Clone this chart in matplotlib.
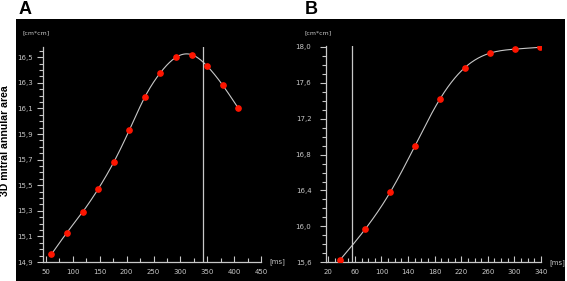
import numpy as np
import matplotlib
matplotlib.use("Agg")
import matplotlib.pyplot as plt
from matplotlib.ticker import MultipleLocator, FuncFormatter

# ---- data ----
a_time = [60, 89, 118, 147, 176, 205, 234, 263, 292, 321, 350, 379, 408]
a_area = [14.96, 15.13, 15.29, 15.47, 15.68, 15.93, 16.19, 16.38, 16.50, 16.52, 16.43, 16.28, 16.10]
a_marker = 342

b_time = [38, 75.5, 113, 150.5, 188, 225.5, 263, 300.5, 338]
b_area = [15.63, 15.97, 16.38, 16.90, 17.42, 17.77, 17.93, 17.975, 17.995]
b_marker = 56

ylabel = "3D mitral annular area"
unit_y = "[cm*cm]"
unit_x = "[ms]"

FG = "#c8c8c8"
RED = "#ff1500"


def natural_spline(x, y, n=400):
    x = np.asarray(x, float)
    y = np.asarray(y, float)
    m = len(x)
    h = np.diff(x)
    A = np.zeros((m, m))
    r = np.zeros(m)
    A[0, 0] = A[-1, -1] = 1
    for i in range(1, m - 1):
        A[i, i - 1] = h[i - 1]
        A[i, i] = 2 * (h[i - 1] + h[i])
        A[i, i + 1] = h[i]
        r[i] = 3 * ((y[i + 1] - y[i]) / h[i] - (y[i] - y[i - 1]) / h[i - 1])
    c = np.linalg.solve(A, r)
    b = (y[1:] - y[:-1]) / h - h * (2 * c[:-1] + c[1:]) / 3
    d = (c[1:] - c[:-1]) / (3 * h)
    xs = np.linspace(x[0], x[-1], n)
    idx = np.clip(np.searchsorted(x, xs) - 1, 0, m - 2)
    dx = xs - x[idx]
    ys = y[idx] + b[idx] * dx + c[idx] * dx ** 2 + d[idx] * dx ** 3
    return xs, ys


fig = plt.figure(figsize=(5.67, 2.81), dpi=100)
fig.patch.set_facecolor("white")
bg = fig.add_axes([16 / 567, 0, (565 - 16) / 567, 1 - 19 / 281], zorder=-5)
bg.set_facecolor("black")
bg.set_xticks([])
bg.set_yticks([])
for s in bg.spines.values():
    s.set_visible(False)

comma = FuncFormatter(lambda v, p: f"{v:.1f}".replace(".", ","))


def style(ax, ypad):
    ax.set_facecolor("none")
    for s in ["top", "right"]:
        ax.spines[s].set_visible(False)
    for s in ["left", "bottom"]:
        ax.spines[s].set_color(FG)
        ax.spines[s].set_linewidth(0.9)
    ax.tick_params(axis="y", which="both", direction="out", colors=FG,
                   labelsize=5, pad=ypad, width=0.8)
    ax.tick_params(axis="y", which="major", length=4)
    ax.tick_params(axis="y", which="minor", length=3)
    ax.tick_params(axis="x", which="both", direction="in", colors=FG,
                   labelsize=5, pad=5, width=0.8)
    ax.tick_params(axis="x", which="major", length=4.5)
    ax.tick_params(axis="x", which="minor", length=3)
    ax.yaxis.set_major_formatter(comma)


# Panel A
axA = fig.add_axes([43 / 567, 1 - 262 / 281, (261 - 43) / 567, (262 - 47) / 281])
style(axA, 3.5)
axA.set_xlim(44.4, 450)
axA.set_ylim(14.9, 16.58)
axA.xaxis.set_major_locator(MultipleLocator(50))
axA.xaxis.set_minor_locator(MultipleLocator(25))
axA.set_yticks(np.arange(14.9, 16.6, 0.2))
axA.yaxis.set_minor_locator(MultipleLocator(0.05))
xs, ys = natural_spline(a_time, a_area)
axA.plot(xs, ys, color=FG, lw=0.8, zorder=2)
axA.plot(a_time, a_area, "o", color=RED, ms=3.8, mec=RED, zorder=3)
axA.axvline(a_marker, color=FG, lw=0.9, zorder=1)
axA.text(-0.092, 1.065, unit_y, transform=axA.transAxes, color=FG, fontsize=4.5,
         ha="left", va="center")
axA.text(1.04, 0.0, unit_x, transform=axA.transAxes, color=FG, fontsize=5,
         ha="left", va="center")

# Panel B
axB = fig.add_axes([326 / 567, 1 - 262.3 / 281, (541 - 326) / 567, (262.3 - 46) / 281])
style(axB, 6.5)
axB.set_xlim(16.5, 340)
axB.set_ylim(15.6, 18.01)
axB.set_xticks(np.arange(20, 341, 40))
axB.xaxis.set_minor_locator(MultipleLocator(10))
axB.set_yticks(np.arange(15.6, 18.01, 0.4))
axB.yaxis.set_minor_locator(MultipleLocator(0.1))
xs, ys = natural_spline(b_time, b_area)
axB.plot(xs, ys, color=FG, lw=0.8, zorder=2)
axB.plot(b_time, b_area, "o", color=RED, ms=3.8, mec=RED, zorder=3)
axB.axvline(b_marker, color=FG, lw=0.9, zorder=1)
axB.text(-0.098, 1.06, unit_y, transform=axB.transAxes, color=FG, fontsize=4.5,
         ha="left", va="center")
axB.text(1.04, 0.0, unit_x, transform=axB.transAxes, color=FG, fontsize=5,
         ha="left", va="center")

# Labels
fig.text(19 / 567, 1 - 9 / 281, "A", fontsize=13, fontweight="bold",
         family="Liberation Sans", ha="left", va="center")
fig.text(305 / 567, 1 - 9 / 281, "B", fontsize=13, fontweight="bold",
         family="Liberation Sans", ha="left", va="center")
fig.text(5 / 567, 1 - 141 / 281, ylabel, fontsize=7.6, fontweight="bold",
         family="Liberation Sans", rotation=90, ha="center", va="center")

fig.savefig("out.png", dpi=100, facecolor="white")
